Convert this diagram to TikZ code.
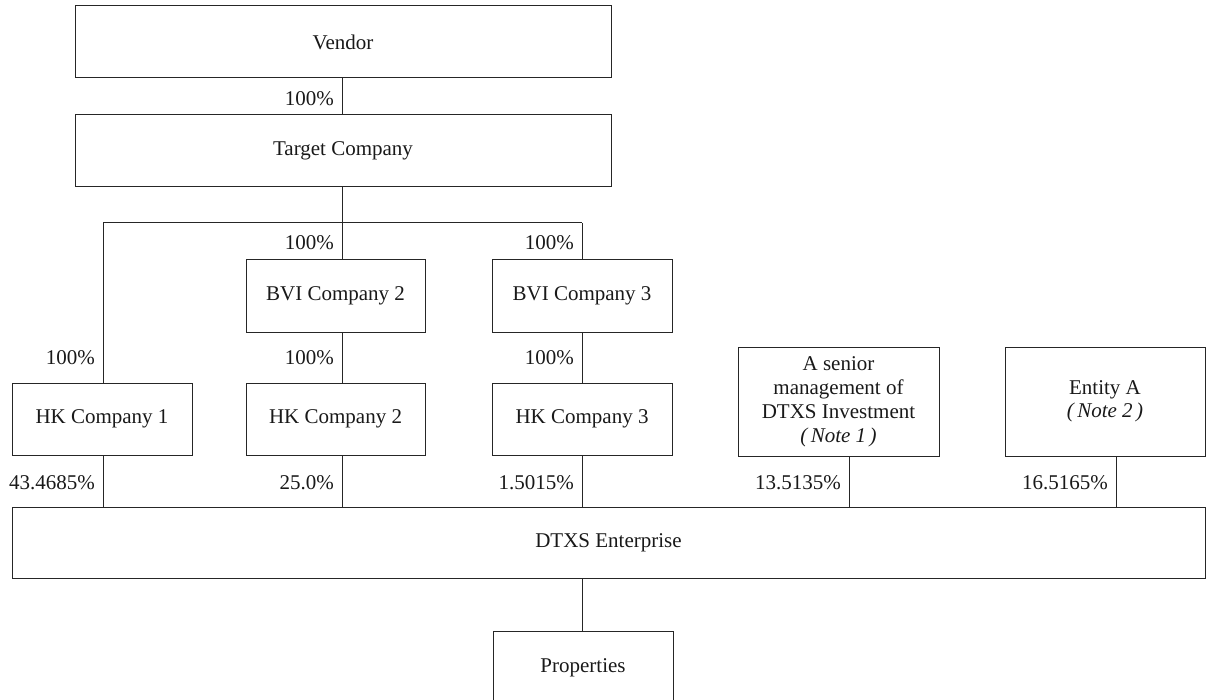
\documentclass[tikz,border=0pt]{standalone}
\usepackage{fontspec}
\setmainfont{Liberation Serif}
\begin{document}
\begin{tikzpicture}[x=1pt,y=-1pt,
  box/.style={draw=black!85,line width=1pt,inner sep=0pt,outer sep=0pt,align=center,
    font=\fontsize{21}{24}\selectfont,text=black!90},
  link/.style={draw=black!85,line width=1pt},
  pct/.style={anchor=east,inner sep=0pt,font=\fontsize{21}{24}\selectfont,text=black!90}]
\useasboundingbox (0,0) rectangle (1206,700);
\clip (0,0) rectangle (1206,700);
% boxes
\node[box,minimum width=536pt,minimum height=72pt] (vendor) at (343,42) {Vendor};
\node[box,minimum width=536pt,minimum height=72pt] (target) at (343,151) {Target Company};
\node[box,minimum width=179pt,minimum height=72pt] (bvi2) at (335.5,296) {BVI Company 2};
\node[box,minimum width=180pt,minimum height=72pt] (bvi3) at (582,296) {BVI Company 3};
\node[box,minimum width=180pt,minimum height=72pt] (hk1) at (102,419) {HK Company 1};
\node[box,minimum width=179pt,minimum height=72pt] (hk2) at (335.5,419) {HK Company 2};
\node[box,minimum width=180pt,minimum height=72pt] (hk3) at (582,419) {HK Company 3};
\node[box,minimum width=201pt,minimum height=109pt] (senior) at (838.5,401.5)
  {A senior\\management of\\DTXS Investment\\\textit{(\,Note 1\,)}};
\node[box,minimum width=200pt,minimum height=109pt] (entity) at (1105,401.5)
  {Entity A\\[-1pt]\textit{(\,Note 2\,)}};
\node[box,minimum width=1193pt,minimum height=71pt] (dtxs) at (608.5,542.5) {DTXS Enterprise};
\node[box,minimum width=180pt,minimum height=74pt] (prop) at (583,668) {Properties};
% branch coordinates
\coordinate (bus) at (342,223);
\coordinate (busL) at (103,223);
\coordinate (busR) at (582,223);
% connectors
\draw[link] (vendor.south -| bus) -- (target.north -| bus);
\draw[link] (target.south -| bus) -- (bus);
\draw[link] (busL) -- (busR);
\draw[link] (busL) -- (hk1.north -| busL);
\draw[link] (bus) -- (bvi2.north -| bus);
\draw[link] (busR) -- (bvi3.north -| busR);
\draw[link] (bvi2.south -| bus) -- (hk2.north -| bus);
\draw[link] (bvi3.south -| busR) -- (hk3.north -| busR);
\draw[link] (hk1.south -| busL) -- (dtxs.north -| busL);
\draw[link] (hk2.south -| bus) -- (dtxs.north -| bus);
\draw[link] (hk3.south -| busR) -- (dtxs.north -| busR);
\draw[link] ([xshift=10.5pt]senior.south) -- ([xshift=10.5pt]senior.south |- dtxs.north);
\draw[link] ([xshift=11pt]entity.south) -- ([xshift=11pt]entity.south |- dtxs.north);
\draw[link] (dtxs.south -| busR) -- (prop.north -| busR);
% percentages
\node[pct] (p0) at (334,99) {100\%};
\node[pct] (p1) at (334,243) {100\%};
\node[pct] (p2) at (574,243) {100\%};
\node[pct] (p3) at (95,358) {100\%};
\node[pct] (p4) at (334,358) {100\%};
\node[pct] (p5) at (574,358) {100\%};
\node[pct] (p6) at (95,483) {43.4685\%};
\node[pct] (p7) at (334,483) {25.0\%};
\node[pct] (p8) at (574,483) {1.5015\%};
\node[pct] (p9) at (841,483) {13.5135\%};
\node[pct] (p10) at (1108,483) {16.5165\%};
\end{tikzpicture}
\end{document}
